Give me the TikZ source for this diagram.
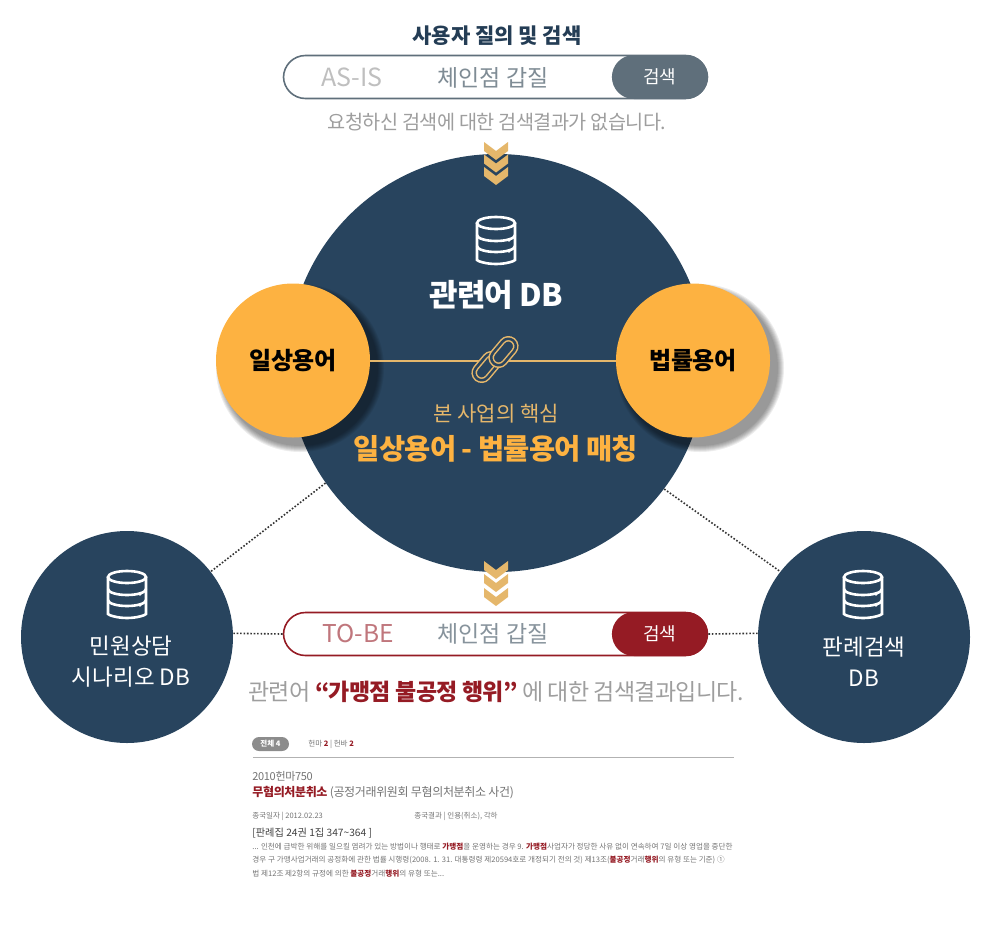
\documentclass[tikz,border=0pt]{standalone}
\usepackage{fontspec}
\setmainfont{Noto Sans CJK KR}
\newfontfamily\tightfont{Noto Sans CJK KR}[LetterSpace=-3]
\usepackage{tikz}
\usetikzlibrary{arrows,fit,positioning}
\definecolor{navy}{HTML}{28445E}
\definecolor{amber}{HTML}{FDB241}
\definecolor{gold}{HTML}{E5B76B}
\definecolor{slate}{HTML}{5F6F7B}
\definecolor{crimson}{HTML}{951B24}
\tikzset{
    %Define style for circles
    bigcircle/.style={
           circle,
           fill=navy,
           inner sep=0pt,
           minimum size=418pt,
           },
    dbcircle/.style={
           circle,
           fill=navy,
           text=white,
           inner sep=0pt,
           minimum size=212pt,
           align=center,
           font=\fontsize{22.5}{31}\selectfont
           },
    term/.style={
           circle,
           fill=amber,
           inner sep=0pt,
           minimum size=154pt,
           font=\tightfont\fontsize{24}{28}\selectfont\bfseries
           },
    %Define style for search bars
    searchbar/.style={
           rectangle,
           rounded corners=22pt,
           draw=#1, line width=1.6pt,
           fill=white,
           minimum width=424pt,
           minimum height=43pt
           },
    searchbtn/.style={
           rectangle,
           rounded corners=22pt,
           fill=#1,
           text=white,
           inner sep=0pt,
           minimum width=96pt,
           minimum height=44pt,
           font=\fontsize{18}{22}\selectfont
           },
    txt/.style={
           inner sep=0pt,
           font=\fontsize{#1}{#1}\selectfont
           },
    tight/.style={
           inner sep=0pt,
           font=\tightfont\fontsize{#1}{#1}\selectfont
           },
    boldtight/.style={
           inner sep=0pt,
           font=\tightfont\fontsize{#1}{#1}\selectfont\bfseries
           },
    row/.style={
           inner sep=0pt,
           anchor=west,
           text=black!55,
           font=\fontsize{#1}{#1}\selectfont
           },
    tightrow/.style={
           inner sep=0pt,
           anchor=west,
           text=black!55,
           font=\tightfont\fontsize{#1}{#1}\selectfont
           },
    linkring/.style={
           rectangle,
           rounded corners=7.5pt,
           rotate=50,
           draw=gold, line width=1.5pt,
           double=navy, double distance=2.5pt,
           fill=navy,
           minimum width=30pt,
           minimum height=15pt
           },
    dots/.style={
           dash pattern=on 1.6pt off 1.8pt,
           line width=1.6pt,
           draw=black!80
           },
    chevron/.pic={
           \fill[gold] (-12,0) -- (0,9) -- (12,0) -- (12,9) -- (0,18) -- (-12,9) -- cycle;
           },
    dbicon/.pic={
           \draw[white, line width=2.6pt] (0,-18) ellipse [x radius=19, y radius=6];
           \draw[white, line width=2.6pt, rounded corners=3pt]
              (-19,-18) -- (-19,16) arc [start angle=180, end angle=0, x radius=19, y radius=7] -- (19,-18);
           \draw[white, line width=2.6pt] (-19,-6) arc [start angle=180, end angle=0, x radius=19, y radius=6];
           \draw[white, line width=2.6pt] (-19,5) arc [start angle=180, end angle=0, x radius=19, y radius=6];
           \fill[white] (13,-1) circle (1.9) (13,10) circle (1.9);
           }
}
\newcommand{\hit}[1]{\textcolor{crimson}{\bfseries #1}}

\begin{document}
\begin{tikzpicture}[x=1pt,y=-1pt,thick]
 \useasboundingbox (0,0) rectangle (984,937);
 %circles
\node[bigcircle](core) at (497,363){};
\node[dbcircle](dbleft) at (127,637){\\[36pt]\hspace*{8pt}민원상담\\\hspace*{8pt}시나리오 DB};
\node[dbcircle](dbright) at (864,637){\\[36pt]판례검색\\DB};
\foreach \r in {84,83,82,81,80,79,78}
 {\fill[black, opacity=.07] (300,368) circle (\r);
  \fill[black, opacity=.07] (700,368) circle (\r);}
\node[term](daily) at (293,360.5){일상용어};
\node[term](legal) at (693,360.5){법률용어};
 %link between the terms
\path[draw=gold, line width=2pt] (daily) -- (legal);
\node[linkring](ringa) at (486.5,367){};
\node[linkring](ringb) at (503.5,352){};
 %search bars
\node[txt=21, font=\fontsize{21}{21}\selectfont\bfseries, text=navy!90!black](title) at (497,36){사용자 질의 및 검색};
\node[searchbar=slate](asis) at (495.5,77){};
\node[searchbtn=slate, anchor=east](asisbtn) at (asis.east){검색};
\node[txt=25, text=black!25](asislabel) at (352,77){AS-IS};
\node[txt=23, text=slate!80](asisquery) at (493,78){체인점 갑질};
\node[tight=19.7, text=black!38](asisnote) at (497,122){요청하신 검색에 대한 검색결과가 없습니다.};
\node[searchbar=crimson](tobe) at (495.5,634){};
\node[searchbtn=crimson, anchor=east](tobebtn) at (tobe.east){검색};
\node[txt=24.5, text=crimson!60](tobelabel) at (358,634){TO-BE};
\node[txt=23, text=slate!75](tobequery) at (493,634){체인점 갑질};
\node[tight=23, text=black!38](tobenote) at (496,692){관련어 \hit{“가맹점 불공정 행위”} 에 대한 검색결과입니다.};
 %core texts
\node[boldtight=31, text=white](corename) at (496,295){관련어 DB};
\node[txt=21, text=gold](coresub) at (496,414){본 사업의 핵심};
\node[boldtight=28.5, text=amber](corematch) at (496,449){일상용어 - 법률용어 매칭};
 %icons
\pic at (496,241) {dbicon};
\pic at (127,595) {dbicon};
\pic at (863,595) {dbicon};
\pic at (496,142) {chevron};
\pic at (496,154.5) {chevron};
\pic at (496,167) {chevron};
\pic at (496,561) {chevron};
\pic at (496,574) {chevron};
\pic at (496,588) {chevron};
 %dotted connectors
\path[dots] (core.215) edge (dbleft.38)
   (core.-37) edge (dbright.142.5)
   (dbleft.2) edge (tobe.west)
   (dbright.178) edge (tobe.east);
 %result list
\node[rectangle, rounded corners=7pt, fill=black!45, text=white, minimum width=37pt, minimum height=14pt, inner sep=0pt, font=\fontsize{7.5}{8}\selectfont\bfseries](total) at (270.5,744){전체 4};
\node[row=7.5](counts) at (308,744){헌마 \hit{2} | 헌바 \hit{2}};
\node[inner sep=0pt](ruleend) at (735,757){};
\node[inner sep=0pt](rulestart) at (252,757){};
\path[draw=black!30, line width=1pt] (rulestart) -- (ruleend);
\node[tightrow=11](caseno) at (252,776){2010헌마750};
\node[tightrow=12](casename) at (252,793){\hit{무혐의처분취소} (공정거래위원회 무혐의처분취소 사건)};
\node[row=7.5](dateline) at (252,816){종국일자 | 2012.02.23};
\node[row=7.5](resultline) at (414,816){종국결과 | 인용(취소), 각하};
\node[row=10.2, text=black!75](source) at (252,833){[판례집 24권 1집 347\textasciitilde364 ]};
\node[row=7.6](lineone) at (252,847){... 인천에 급박한 위해를 일으킬 염려가 있는 방법이나 행태로 \hit{가맹점}을 운영하는 경우 9. \hit{가맹점}사업자가 정당한 사유 없이 연속하여 7일 이상 영업을 중단한};
\node[row=7.6](linetwo) at (252,860){경우 구 가맹사업거래의 공정화에 관한 법률 시행령(2008. 1. 31. 대통령령 제20594호로 개정되기 전의 것) 제13조(\hit{불공정}거래\hit{행위}의 유형 또는 기준) ①};
\node[row=7.6](linethree) at (252,874){법 제12조 제2항의 규정에 의한 \hit{불공정}거래\hit{행위}의 유형 또는...};
\end{tikzpicture}
\end{document}
